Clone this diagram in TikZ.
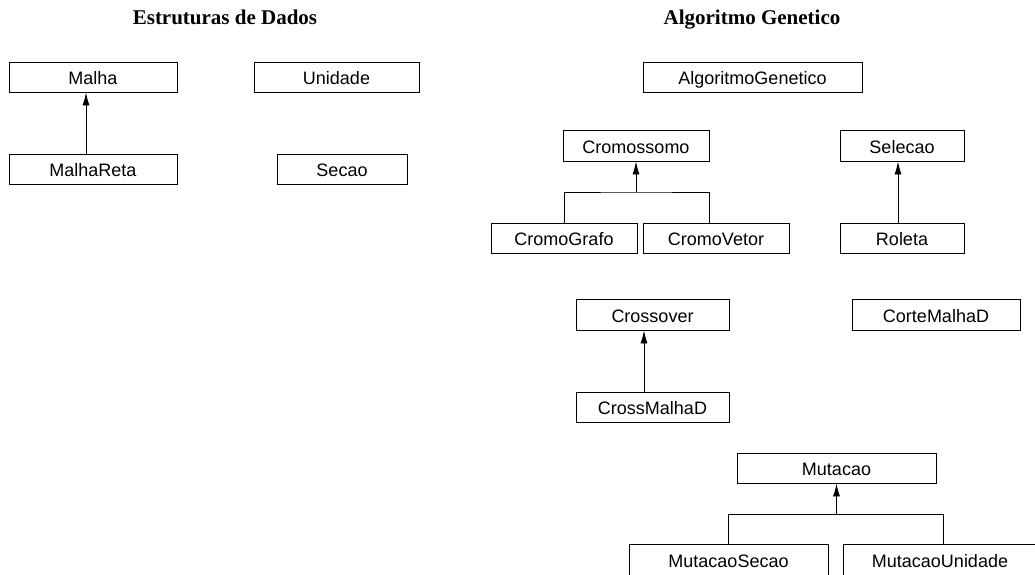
\documentclass[tikz,border=0pt]{standalone}
\usepackage{fontspec}
\setmainfont{Liberation Serif}
\setsansfont{Liberation Sans}
\usepackage{tikz}
\usetikzlibrary{arrows.meta}

\begin{document}
\begin{tikzpicture}[
			     x=1pt, y=-1pt,
			     classe/.style={draw, line width=0.9pt, inner sep=0pt, minimum height=30pt,
			       text height=17pt, text depth=2pt, font=\sffamily\fontsize{18}{21}\selectfont},
			     titulo/.style={anchor=base, font=\bfseries\fontsize{21}{24}\selectfont},
			     heranca/.style={-{Latex[length=13pt,width=7pt]}, line width=0.9pt},
			     ligacao/.style={line width=0.9pt}
			     ]
\path[use as bounding box] (0,0) rectangle (1035,574);
\clip (0,0) rectangle (1035,574);
% titulos
\node[titulo] (tdados) at (225,24) {Estruturas de Dados};
\node[titulo] (tag) at (752,24) {Algoritmo Genetico};
% estruturas de dados
\node[classe, minimum width=168pt] (Malha) at (93,77) {Malha};
\node[classe, minimum width=165pt] (Unidade) at (336.5,77) {Unidade};
\node[classe, minimum width=168pt] (MalhaReta) at (93,169) {MalhaReta};
\node[classe, minimum width=130pt] (Secao) at (342,169) {Secao};
% algoritmo genetico
\node[classe, minimum width=219pt] (AG) at (752.5,77) {AlgoritmoGenetico};
\node[classe, minimum width=146pt, minimum height=31pt] (Cromossomo) at (636,145.5) {Cromossomo};
\node[classe, minimum width=124pt, minimum height=31pt] (Selecao) at (902,145.5) {Selecao};
\node[classe, minimum width=146pt] (CromoGrafo) at (564,238) {CromoGrafo};
\node[classe, minimum width=146pt] (CromoVetor) at (716,238) {CromoVetor};
\node[classe, minimum width=124pt] (Roleta) at (902,238) {Roleta};
\node[classe, minimum width=153pt, minimum height=31pt] (Crossover) at (652.5,314.5) {Crossover};
\node[classe, minimum width=168pt, minimum height=31pt] (CorteMalhaD) at (936,314.5) {CorteMalhaD};
\node[classe, minimum width=153pt] (CrossMalhaD) at (652.5,407) {CrossMalhaD};
\node[classe, minimum width=199pt] (Mutacao) at (836.5,468) {Mutacao};
\node[classe, minimum width=199pt, minimum height=31pt] (MutacaoSecao) at (728.5,559.5) {MutacaoSecao};
\node[classe, minimum width=194pt, minimum height=31pt] (MutacaoUnidade) at (940,559.5) {MutacaoUnidade};
% heranca
\coordinate (jcromo) at (636,192);
\coordinate (jmut) at (836.5,514);
\draw[heranca] ([xshift=-7pt]MalhaReta.north) -- ([xshift=-7pt]Malha.south);
\draw[ligacao] (CromoGrafo.north) |- (jcromo) -| ([xshift=-7pt]CromoVetor.north);
\draw[heranca] (jcromo) -- (Cromossomo.south);
\draw[heranca] ([xshift=-4pt]Roleta.north) -- ([xshift=-4pt]Selecao.south);
\draw[heranca] ([xshift=-8.5pt]CrossMalhaD.north) -- ([xshift=-8.5pt]Crossover.south);
\draw[ligacao] (MutacaoSecao.north) |- (jmut) -| ([xshift=3pt]MutacaoUnidade.north);
\draw[heranca] (jmut) -- (Mutacao.south);
\end{tikzpicture}
\end{document}
